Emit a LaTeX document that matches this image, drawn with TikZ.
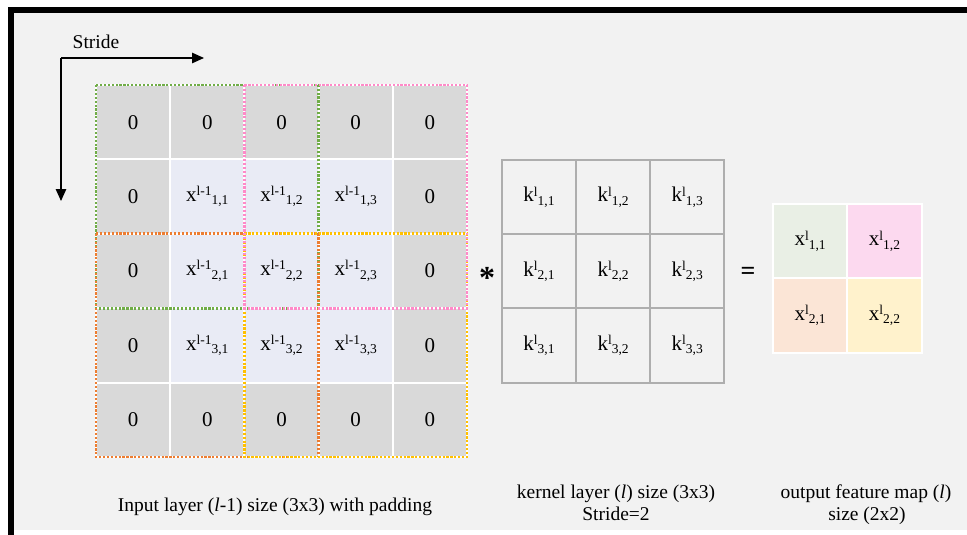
\documentclass[tikz,border=0pt]{standalone}
\usepackage{fontspec}
\setmainfont{Liberation Serif}
\usetikzlibrary{arrows.meta}

\definecolor{bgpanel}{HTML}{F2F2F2}
\definecolor{padcell}{HTML}{D9D9D9}
\definecolor{datacell}{HTML}{E9EBF5}
\definecolor{wingreen}{HTML}{70AD47}
\definecolor{winpink}{HTML}{FF8AC8}
\definecolor{winorange}{HTML}{ED7D31}
\definecolor{winyellow}{HTML}{FFC000}
\definecolor{kgrid}{HTML}{AEAEAE}
\definecolor{outA}{HTML}{E9EFE5}
\definecolor{outB}{HTML}{FCD9EF}
\definecolor{outC}{HTML}{FBE5D6}
\definecolor{outD}{HTML}{FFF2CC}

% Word-style indices: superscript then subscript, side by side
\newcommand\supidx[1]{\raisebox{5.8pt}{\fontsize{13.5}{13.5}\selectfont #1}}
\newcommand\subidx[1]{\raisebox{-3.5pt}{\fontsize{13.5}{13.5}\selectfont #1}}
\newcommand\xin[2]{x\supidx{l-1}\subidx{#1,#2}}
\newcommand\kin[2]{k\supidx{l}\subidx{#1,#2}}
\newcommand\xout[2]{x\supidx{l}\subidx{#1,#2}}

\tikzset{
  cellbase/.style={minimum width=74.2pt, minimum height=74.3pt, inner sep=0pt,
    outer sep=0pt, line width=2pt, font=\fontsize{21}{25}\selectfont},
  padbox/.style={cellbase, draw=white, fill=padcell},
  databox/.style={cellbase, draw=white, fill=datacell},
  kernbox/.style={cellbase, draw=kgrid},
  outbox/.style={cellbase, draw=white},
  window/.style={line width=2.8pt, dash pattern=on 2.2pt off 1.7pt},
  caption/.style={font=\fontsize{19.5}{23}\selectfont, anchor=base, inner sep=0pt},
  strideline/.style={line width=1.3pt, -{Triangle[length=12pt,width=10.5pt]}},
}

\begin{document}
\begin{tikzpicture}[x=1pt, y=-1pt]
  \useasboundingbox (0,0) rectangle (967,535);
  \fill[white] (0,0) rectangle (967,535);

  % panel with dark frame on top and left
  \fill[bgpanel] (8,7) rectangle (967,530);
  \fill[black] (8,7) rectangle (14,535);
  \fill[black] (8,7) rectangle (967,12.6);

  % stride direction arrows
  \coordinate (strideO) at (61,58);
  \coordinate (strideR) at (204,58);
  \coordinate (strideD) at (61,201);
  \draw[strideline] (strideO) -- (strideR);
  \draw[strideline] (strideO) -- (strideD);
  \node[caption] (stridelbl) at (96,49) {Stride};

  % padded input layer 5x5
  \foreach \r in {0,...,4}{
    \foreach \c in {0,...,4}{
      \pgfmathtruncatemacro\isdata{(\r>0)&&(\r<4)&&(\c>0)&&(\c<4)}
      \ifnum\isdata=1
        \node[databox] (in-\r-\c) at ({96+74.2*(\c+0.5)},{85+74.4*(\r+0.5)}) {\xin{\r}{\c}};
      \else
        \node[padbox] (in-\r-\c) at ({96+74.2*(\c+0.5)},{85+74.4*(\r+0.5)}) {0};
      \fi
    }
  }

  % receptive-field windows for stride 2
  \draw[window, wingreen]  (in-0-0.north west) rectangle (in-2-2.south east);
  \draw[window, winorange] (in-2-0.north west) rectangle (in-4-2.south east);
  \draw[window, winyellow] (in-2-2.north west) rectangle (in-4-4.south east);
  \draw[window, winpink]   (in-0-2.north west) rectangle (in-2-4.south east);

  % convolution operator
  \node[font=\fontsize{32}{32}\selectfont\bfseries, inner sep=0pt] (conv) at (487,278) {*};

  % kernel 3x3
  \foreach \r in {1,2,3}{
    \foreach \c in {1,2,3}{
      \node[kernbox] (k-\r-\c) at ({502+74.1*(\c-0.5)},{160+74.2*(\r-0.5)}) {\kin{\r}{\c}};
    }
  }

  % equals sign
  \node[font=\fontsize{26}{26}\selectfont\bfseries, inner sep=0pt] (eq) at (748,273) {=};

  % output feature map 2x2
  \node[outbox, fill=outA] (out-1-1) at ({773+74.3*0.5},{204+74.4*0.5}) {\xout{1}{1}};
  \node[outbox, fill=outB] (out-1-2) at ({773+74.3*1.5},{204+74.4*0.5}) {\xout{1}{2}};
  \node[outbox, fill=outC] (out-2-1) at ({773+74.3*0.5},{204+74.4*1.5}) {\xout{2}{1}};
  \node[outbox, fill=outD] (out-2-2) at ({773+74.3*1.5},{204+74.4*1.5}) {\xout{2}{2}};

  % captions
  \node[caption] (capin) at (275,511) {Input layer (\textit{l}-1) size (3x3) with padding};
  \node[caption] (capk1) at (616,498.5) {kernel layer (\textit{l}) size (3x3)};
  \node[caption] (capk2) at (616,520) {Stride=2};
  \node[caption] (capo1) at (866,498.5) {output feature map (\textit{l})};
  \node[caption] (capo2) at (867,520) {size (2x2)};
\end{tikzpicture}
\end{document}
